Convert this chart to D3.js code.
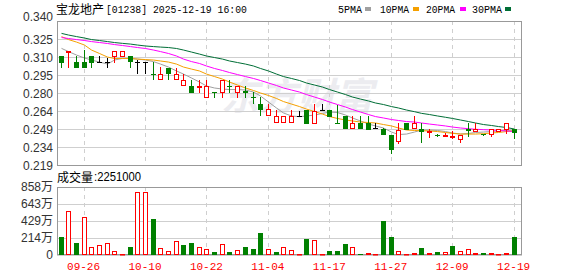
<!DOCTYPE html>
<html><head><meta charset="utf-8">
<script src="https://cdn.jsdelivr.net/npm/d3@7"></script>
<style>html,body{margin:0;padding:0;background:#fff;} svg{display:block;}</style>
</head><body>
<svg id="c" width="578" height="276"></svg>
<script>
const dates = ["09-23","09-24","09-25","09-26","09-29","09-30","10-02","10-03","10-06","10-08",
"10-09","10-10","10-13","10-14","10-15","10-16","10-17","10-20","10-21","10-22",
"10-23","10-24","10-27","10-28","10-30","10-31","11-03","11-04","11-05","11-06",
"11-07","11-10","11-11","11-12","11-13","11-17","11-18","11-19","11-20","11-21",
"11-24","11-25","11-26","11-27","11-28","12-01","12-02","12-03","12-04","12-05",
"12-08","12-09","12-10","12-11","12-12","12-15","12-16","12-17","12-18","12-19"];
const openP = [0.3106,0.3148,0.3055,0.3055,0.3106,0.3055,0.3055,0.3110,0.3110,0.3106,
0.3058,0.3055,0.2958,0.2910,0.3002,0.2910,0.2862,0.2854,0.2852,0.2759,
0.2803,0.2805,0.2858,0.2805,0.2808,0.2764,0.2702,0.2610,0.2554,0.2554,
0.2554,0.2602,0.2652,0.2545,0.2652,0.2652,0.2542,0.2602,0.2498,0.2545,
0.2540,0.2498,0.2490,0.2442,0.2394,0.2540,0.2498,0.2492,0.2470,0.2445,
0.2442,0.2432,0.2412,0.2490,0.2477,0.2454,0.2448,0.2477,0.2490,0.2490];
const closeP = [0.3058,0.3150,0.3011,0.3011,0.3058,0.3055,0.3055,0.3150,0.3150,0.3067,
0.3058,0.3055,0.2954,0.2952,0.2960,0.2952,0.2904,0.2806,0.2856,0.2854,
0.2801,0.2904,0.2854,0.2856,0.2806,0.2762,0.2658,0.2658,0.2602,0.2602,
0.2602,0.2602,0.2545,0.2646,0.2652,0.2602,0.2540,0.2498,0.2545,0.2498,
0.2495,0.2498,0.2448,0.2322,0.2484,0.2490,0.2540,0.2475,0.2473,0.2442,
0.2445,0.2436,0.2440,0.2482,0.2490,0.2452,0.2490,0.2490,0.2540,0.2465];
const highP = [0.3106,0.3150,0.3106,0.3156,0.3106,0.3106,0.3089,0.3150,0.3150,0.3106,
0.3072,0.3055,0.3055,0.3011,0.3002,0.3002,0.2952,0.2904,0.2904,0.2904,
0.2803,0.2904,0.2904,0.2856,0.2856,0.2806,0.2758,0.2702,0.2650,0.2602,
0.2650,0.2646,0.2652,0.2702,0.2702,0.2652,0.2694,0.2602,0.2601,0.2601,
0.2601,0.2540,0.2498,0.2442,0.2540,0.2540,0.2601,0.2540,0.2490,0.2450,
0.2456,0.2473,0.2446,0.2540,0.2540,0.2454,0.2490,0.2490,0.2540,0.2490];
const lowP = [0.3011,0.3011,0.3011,0.3011,0.3011,0.3055,0.3011,0.3058,0.3110,0.3011,
0.2960,0.2960,0.2910,0.2910,0.2910,0.2910,0.2862,0.2806,0.2806,0.2759,
0.2759,0.2759,0.2806,0.2759,0.2759,0.2708,0.2610,0.2610,0.2554,0.2554,
0.2554,0.2602,0.2545,0.2545,0.2652,0.2602,0.2540,0.2498,0.2498,0.2498,
0.2495,0.2498,0.2448,0.2293,0.2377,0.2490,0.2498,0.2386,0.2428,0.2432,
0.2434,0.2414,0.2386,0.2432,0.2477,0.2444,0.2434,0.2477,0.2456,0.2414];
// volume in 万股
const volume = [223,559,147,483,105,130,155,55,8,97,
798,798,449,92,55,181,122,147,105,80,
34,143,34,67,97,71,273,80,34,105,
67,8,197,193,8,46,46,134,105,13,
21,13,424,223,55,8,29,84,21,34,
42,109,55,80,29,21,21,8,21,225.1];
// 1 = up (red), 0 = down (green)
const volumeUp = [0,1,0,1,1,1,1,1,1,0,1,1,0,1,1,1,0,0,1,1,0,1,0,1,0,0,0,1,0,1,
1,1,0,1,1,0,0,0,1,0,1,1,0,0,1,1,1,0,1,0,1,0,1,1,1,0,1,1,1,0];
const ma5 = [0.3170,0.3143,0.3114,0.3089,0.3072,0.3055,0.3038,0.3072,0.3086,0.3085,
0.3080,0.3072,0.3059,0.3038,0.3013,0.2980,0.2954,0.2921,0.2887,0.2854,
0.2837,0.2828,0.2824,0.2824,0.2820,0.2803,0.2770,0.2719,0.2669,0.2627,
0.2602,0.2596,0.2602,0.2610,0.2623,0.2635,0.2631,0.2610,0.2585,0.2560,
0.2534,0.2518,0.2501,0.2467,0.2446,0.2450,0.2467,0.2484,0.2484,0.2480,
0.2471,0.2459,0.2450,0.2455,0.2463,0.2467,0.2471,0.2476,0.2480,0.2484];
const ma10 = [0.3269,0.3244,0.3223,0.3198,0.3156,0.3127,0.3097,0.3085,0.3085,0.3085,
0.3080,0.3076,0.3072,0.3064,0.3055,0.3038,0.3013,0.2996,0.2980,0.2954,
0.2933,0.2912,0.2887,0.2862,0.2837,0.2816,0.2795,0.2774,0.2749,0.2723,
0.2702,0.2681,0.2660,0.2639,0.2618,0.2597,0.2581,0.2568,0.2560,0.2551,
0.2547,0.2543,0.2530,0.2518,0.2501,0.2484,0.2480,0.2478,0.2476,0.2471,
0.2463,0.2456,0.2450,0.2450,0.2450,0.2453,0.2459,0.2463,0.2471,0.2478];
const ma20 = [0.3261,0.3253,0.3244,0.3236,0.3227,0.3219,0.3211,0.3202,0.3194,0.3185,
0.3177,0.3169,0.3156,0.3143,0.3127,0.3106,0.3080,0.3059,0.3043,0.3022,
0.3001,0.2984,0.2967,0.2950,0.2933,0.2917,0.2900,0.2879,0.2858,0.2837,
0.2820,0.2803,0.2782,0.2761,0.2740,0.2719,0.2698,0.2677,0.2656,0.2635,
0.2614,0.2597,0.2585,0.2572,0.2564,0.2555,0.2551,0.2543,0.2534,0.2526,
0.2518,0.2509,0.2501,0.2495,0.2490,0.2487,0.2484,0.2480,0.2476,0.2471];
const ma30 = [0.3296,0.3282,0.3269,0.3257,0.3244,0.3236,0.3227,0.3219,0.3212,0.3206,
0.3198,0.3190,0.3185,0.3181,0.3177,0.3169,0.3156,0.3139,0.3122,0.3106,
0.3093,0.3080,0.3064,0.3051,0.3038,0.3022,0.3001,0.2980,0.2954,0.2933,
0.2917,0.2900,0.2879,0.2862,0.2845,0.2824,0.2803,0.2782,0.2761,0.2744,
0.2728,0.2711,0.2698,0.2681,0.2669,0.2652,0.2638,0.2624,0.2614,0.2602,
0.2591,0.2581,0.2568,0.2555,0.2543,0.2530,0.2522,0.2513,0.2505,0.2492];
const priceTicks = [0.2190,0.2341,0.2493,0.2644,0.2795,0.2946,0.3098,0.3249,0.3400];
const priceTickLabels = ["0.219","0.234","0.249","0.264","0.280","0.295","0.310","0.325","0.340"];
const volTicks = [0,214.5,429,643.5,858];
const volTickLabels = ["0","214万","429万","643万","858万"];
const xLabelDates = ["09-26","10-10","10-22","11-04","11-17","11-27","12-09","12-19"];
const titleName = "宝龙地产";
const titleInfo = "[01238] 2025-12-19 16:00";
const volName = "成交量";
const volInfo = ":2251000";
const maNames = ["5PMA","10PMA","20PMA","30PMA"];
const maColors = ["#a0a0a0","#f5a000","#ff00ff","#006e36"];
const maSeries = [ma5, ma10, ma20, ma30];

const svg = d3.select("#c");
svg.append("rect").attr("width",578).attr("height",276).attr("fill","#fff");
const L = 57, R = 522, PT = 21, PB = 165, VT = 187, VB = 255;
const x = d3.scaleBand().domain(dates).range([56.66, 517.46]).padding(0);
const cx = d => Math.round(x(d) + x.bandwidth()/2);
const yP = d3.scaleLinear().domain([0.219, 0.340]).range([PB, PT]);
const yV = d3.scaleLinear().domain([0, 858]).range([VB, VT]);
const RED = "#ff0000", GREEN = "#008000";

// watermark
svg.append("text").attr("x", 297).attr("y", 110).attr("text-anchor","middle")
  .attr("font-family","Noto Sans CJK SC").attr("font-weight","bold").attr("font-style","italic")
  .attr("font-size",38).attr("fill","#ececf0").text("东方财富");

// grids
const gridP = svg.append("g");
priceTicks.forEach(t => {
  const y = Math.round(yP(t)) + 0.5;
  gridP.append("line").attr("x1",L).attr("x2",R).attr("y1",y).attr("y2",y).attr("stroke","#cfcfcf");
});
volTicks.forEach(t => {
  const y = Math.round(yV(t)) + 0.5;
  gridP.append("line").attr("x1",L).attr("x2",R).attr("y1",y).attr("y2",y).attr("stroke","#cfcfcf");
});
xLabelDates.forEach(d => {
  const xx = cx(d) + 0.5;
  [[PT,PB],[VT,VB]].forEach(([a,b]) => {
    gridP.append("line").attr("x1",xx).attr("x2",xx).attr("y1",a).attr("y2",b)
      .attr("stroke","#cfcfcf").attr("stroke-dasharray","4,4");
  });
});

// frames
svg.append("rect").attr("x",L+0.5).attr("y",PT+0.5).attr("width",R-L-1).attr("height",PB-PT)
  .attr("fill","none").attr("stroke","#999");
svg.append("rect").attr("x",L+0.5).attr("y",VT+0.5).attr("width",R-L-1).attr("height",VB-VT-1)
  .attr("fill","none").attr("stroke","#999");

// axes labels
const axP = svg.append("g").attr("transform",`translate(${L},0)`)
  .call(d3.axisLeft(yP).tickValues(priceTicks).tickFormat((d,i)=>priceTickLabels[i]).tickSize(0).tickPadding(4));
axP.select(".domain").remove();
axP.selectAll("text").attr("font-family","Liberation Sans, Arial").attr("font-size",12).attr("fill","#333")
  .attr("dy", (d,i) => i === priceTicks.length-1 ? "-0.05em" : "0.35em");
const axV = svg.append("g").attr("transform",`translate(${L},0)`)
  .call(d3.axisLeft(yV).tickValues(volTicks).tickFormat((d,i)=>volTickLabels[i]).tickSize(0).tickPadding(4));
axV.select(".domain").remove();
axV.selectAll("text").attr("font-family","Liberation Sans, Noto Sans CJK SC").attr("font-size",12).attr("fill","#333");
const axX = svg.append("g").attr("transform",`translate(0,${VB})`)
  .call(d3.axisBottom(x).tickValues(xLabelDates).tickSize(0).tickPadding(0));
axX.select(".domain").remove();
axX.selectAll("text").attr("font-family","Liberation Mono").attr("font-size",11).attr("fill",RED)
  .attr("dy","1.35em");

// volume bars
const vg = svg.append("g");
dates.forEach((d,i) => {
  const c = cx(d);
  const top = Math.round(yV(volume[i]));
  const h = VB - top;
  if (volumeUp[i]) {
    vg.append("rect").attr("x",c-1.5).attr("y",top+0.5).attr("width",4).attr("height",Math.max(h-1,0.5))
      .attr("fill","#fff").attr("stroke",RED);
  } else {
    vg.append("rect").attr("x",c-2).attr("y",top).attr("width",5).attr("height",h).attr("fill",GREEN);
  }
});

// MA lines
maSeries.forEach((s,k) => {
  const line = d3.line().x((v,i)=>cx(dates[i])+0.5).y(v=>yP(v));
  svg.append("path").attr("d", line(s)).attr("fill","none").attr("stroke",maColors[k]).attr("stroke-width",1);
});

// candles
const cg = svg.append("g");
dates.forEach((d,i) => {
  const c = cx(d), o = openP[i], cl = closeP[i];
  const yo = yP(o), yc = yP(cl), yh = Math.round(yP(highP[i])), yl = Math.round(yP(lowP[i]));
  const top = Math.round(Math.min(yo,yc)), bot = Math.round(Math.max(yo,yc));
  const col = cl > o ? RED : (cl < o ? GREEN : "#000");
  if (cl > o) {
    if (yh < top) cg.append("line").attr("x1",c+0.5).attr("x2",c+0.5).attr("y1",yh).attr("y2",top).attr("stroke",col);
    if (yl > bot) cg.append("line").attr("x1",c+0.5).attr("x2",c+0.5).attr("y1",bot+1).attr("y2",yl+1).attr("stroke",col);
    cg.append("rect").attr("x",c-1.5).attr("y",top+0.5).attr("width",4).attr("height",Math.max(bot-top,1))
      .attr("fill","#fff").attr("stroke",col);
  } else {
    cg.append("line").attr("x1",c+0.5).attr("x2",c+0.5).attr("y1",yh).attr("y2",yl+1).attr("stroke",col);
    if (bot - top >= 1 && cl < o) {
      cg.append("rect").attr("x",c-2).attr("y",top).attr("width",5).attr("height",bot-top+1).attr("fill",col);
    } else {
      cg.append("line").attr("x1",c-2).attr("x2",c+3).attr("y1",top+0.5).attr("y2",top+0.5).attr("stroke",col);
    }
  }
});

// title
svg.append("text").attr("x",56).attr("y",14).attr("font-family","Noto Sans CJK SC").attr("font-size",12)
  .attr("fill","#000").text(titleName);
svg.append("text").attr("x",106).attr("y",13).attr("font-family","Liberation Mono").attr("font-size",11)
  .attr("textLength",141).attr("lengthAdjust","spacingAndGlyphs").attr("fill","#000").text(titleInfo);

// legend
const legX = [338, 380, 426, 472], legW = [24, 29, 29, 30], swX = [365, 413, 460, 505];
maNames.forEach((n,k) => {
  svg.append("text").attr("x",legX[k]).attr("y",13).attr("font-family","Liberation Mono").attr("font-size",11)
    .attr("textLength",legW[k]).attr("lengthAdjust","spacingAndGlyphs").attr("fill","#000").text(n);
  svg.append("rect").attr("x",swX[k]).attr("y",7).attr("width",6).attr("height",4).attr("fill",maColors[k]);
});

// volume title
svg.append("text").attr("x",57).attr("y",182).attr("font-family","Noto Sans CJK SC").attr("font-size",12)
  .attr("fill","#000").text(volName);
svg.append("text").attr("x",94).attr("y",181).attr("font-family","Liberation Sans, Arial").attr("font-size",12)
  .attr("textLength",47).attr("lengthAdjust","spacingAndGlyphs").attr("fill","#000").text(volInfo);
</script>
</body></html>
